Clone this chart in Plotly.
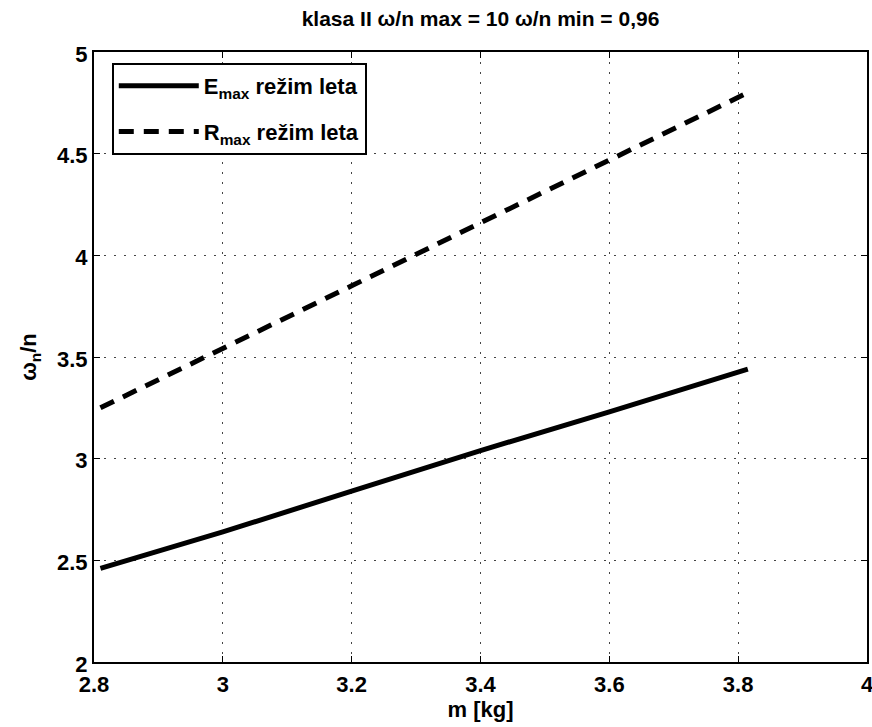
import plotly.graph_objects as go

# masa letjelice [kg]
m = [2.81, 3.0, 3.2, 3.4, 3.6, 3.815]
# omega_n / n
e_max = [2.46, 2.64, 2.84, 3.04, 3.23, 3.44]
r_max = [3.25, 3.54, 3.85, 4.16, 4.47, 4.80]

x_ticks = [2.8, 3.0, 3.2, 3.4, 3.6, 3.8, 4.0]
x_labels = ['2.8', '3', '3.2', '3.4', '3.6', '3.8', '4']
y_ticks = [2, 2.5, 3, 3.5, 4, 4.5, 5]
y_labels = ['2', '2.5', '3', '3.5', '4', '4.5', '5']

font_family = 'Liberation Sans, Arial, sans-serif'

fig = go.Figure()
fig.add_trace(go.Scatter(
    x=m, y=e_max, mode='lines',
    name='E<sub>max</sub> režim leta', legendgroup='e',
    line=dict(color='black', width=5),
))
fig.add_trace(go.Scatter(
    x=m, y=r_max, mode='lines',
    name='R<sub>max</sub> režim leta', legendgroup='r',
    line=dict(color='black', width=5, dash='15px,10px'),
))

fig.update_layout(
    width=872, height=727,
    margin=dict(l=94, r=5, t=52, b=65, autoexpand=False),
    paper_bgcolor='white',
    plot_bgcolor='white',
    title=dict(
        text='klasa II ω/n max = 10 ω/n min = 0,96',
        x=0.5, xanchor='center', xref='paper',
        y=0.975, yanchor='middle',
        font=dict(family=font_family, size=21, color='black', weight='bold'),
    ),
    legend=dict(
        x=0.023, y=0.982, xanchor='left', yanchor='top',
        bgcolor='white', bordercolor='black', borderwidth=2,
        font=dict(family=font_family, size=22, color='black', weight='bold'),
        itemwidth=80, tracegroupgap=14,
    ),
    showlegend=True,
)

axis_common = dict(
    showline=True, linecolor='black', linewidth=2, mirror='ticks',
    showgrid=True, gridcolor='#444444', gridwidth=1, griddash='2px,8px',
    ticks='inside', ticklen=6, tickcolor='black', tickwidth=1,
    zeroline=False, ticklabeloverflow='allow',
    tickfont=dict(family=font_family, size=22, color='black', weight='bold'),
    title_font=dict(family=font_family, size=22, color='black', weight='bold'),
)

fig.update_xaxes(
    range=[2.8, 4.0], tickvals=x_ticks, ticktext=x_labels,
    title_text='m [kg]', title_standoff=4, ticklabelstandoff=2,
    **axis_common,
)
fig.update_yaxes(
    range=[2, 5], tickvals=y_ticks, ticktext=y_labels,
    title_text='ω<sub>n</sub>/n', title_standoff=14, ticklabelshift=2,
    **axis_common,
)

# strana bez rubova da graf sjedne u prozor 872x727
fig.write_html(
    'out.html',
    config={'displayModeBar': False},
    post_script="document.body.style.margin='0px';document.body.style.overflow='hidden';",
)
